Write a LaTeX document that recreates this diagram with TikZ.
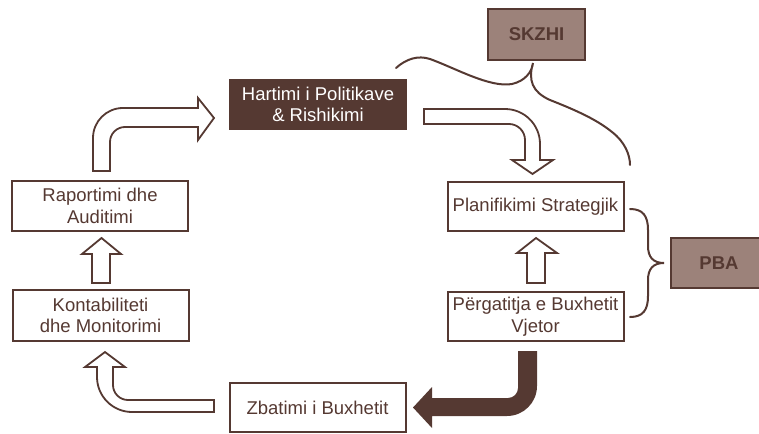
\documentclass[tikz,border=0pt]{standalone}
\usepackage{fontspec}
\setmainfont{Liberation Sans}
\definecolor{dbrown}{HTML}{553932}
\definecolor{lbrown}{HTML}{9C827A}
\begin{document}
\begin{tikzpicture}[x=1pt,y=-1pt,
  box/.style={draw=dbrown,line width=2pt,fill=white,text=dbrown,align=center,
    font=\fontsize{18.5}{21.5}\selectfont,inner sep=0pt,minimum width=176pt,minimum height=49pt},
  darkbox/.style={box,fill=dbrown,draw=dbrown,text=white},
  tagbox/.style={draw=dbrown,line width=2pt,fill=lbrown,text=dbrown,
    font=\fontsize{18.5}{21.5}\selectfont\bfseries,inner sep=0pt,minimum height=49pt},
  hollow/.style={draw=dbrown,line width=1.8pt,fill=white,line join=miter},
  solid/.style={fill=dbrown,draw=none},
  brace/.style={draw=dbrown,line width=2pt,line cap=round}]
\useasboundingbox (0,0) rectangle (759,433);

% nodes
\node[darkbox] (hart) at (318,104.5) {Hartimi i Politikave\\\& Rishikimi};
\node[box] (plan) at (535.5,206.5) {Planifikimi Strategjik};
\node[box] (perg) at (535.5,316.5) {Përgatitja e Buxhetit\\Vjetor};
\node[box,minimum height=50pt] (rap) at (100,206) {Raportimi dhe\\Auditimi};
\node[box,minimum height=51pt] (kont) at (100.5,315.5) {Kontabiliteti\\dhe Monitorimi};
\node[box] (zbat) at (317.5,407.5) {Zbatimi i Buxhetit};
\node[tagbox,minimum width=97pt,minimum height=51pt] (skzhi) at (536.5,34.5) {SKZHI};
\node[tagbox,minimum width=96pt,minimum height=50pt] (pba) at (719,263) {\hspace{0pt}PBA};

% top-left bent arrow (Raportimi -> Hartimi)
\draw[hollow] (93,171) -- (93,138) .. controls (93,121.4) and (106.4,108) .. (123,108)
  -- (198,108) -- (198,98) -- (214,118) -- (198,140) -- (198,127) -- (125,127)
  .. controls (116.7,127) and (110,133.7) .. (110,142) -- (110,171) -- cycle;

% top-right bent arrow (Hartimi -> Planifikimi)
\draw[hollow] (424,109) -- (505,109) .. controls (524.3,109) and (540,124.7) .. (540,144)
  -- (540,160) -- (553,160) -- (532.5,174) -- (512,160) -- (525,160) -- (525,140)
  .. controls (525,131.2) and (517.8,124) .. (509,124) -- (424,124) -- cycle;

% up arrow Përgatitja -> Planifikimi
\draw[hollow] (527,283) -- (527,253) -- (517,253) -- (536,238) -- (557,253) -- (545,253) -- (545,283) -- cycle;

% up arrow Kontabiliteti -> Raportimi
\draw[hollow] (92,283) -- (92,254) -- (82,254) -- (101.5,238) -- (121,254) -- (110,254) -- (110,283) -- cycle;

% dark bent arrow Përgatitja -> Zbatimi
\path[solid] (537,351) -- (537,386) .. controls (537,402.6) and (523.6,416) .. (507,416)
  -- (432,416) -- (432,428) -- (413,407.5) -- (432,387) -- (432,398) -- (508,398)
  .. controls (513.5,398) and (518,393.5) .. (518,388) -- (518,351) -- cycle;

% bottom-left bent arrow Zbatimi -> Kontabiliteti
\draw[hollow] (214,412) -- (132,412) .. controls (112.7,412) and (97,396.3) .. (97,377)
  -- (97,367) -- (85,367) -- (105,352) -- (125,367) -- (113,367) -- (113,385)
  .. controls (113,393.3) and (119.7,400) .. (128,400) -- (214,400) -- cycle;

% brace for PBA
\draw[brace] (630,209) .. controls (643,209) and (648,216) .. (648,230) -- (648,246)
  .. controls (648,257) and (653,263) .. (664,263)
  .. controls (653,263) and (648,269) .. (648,280) -- (648,296)
  .. controls (648,310) and (643,317) .. (630,317);

% brace for SKZHI
\draw[brace] (396,68) .. controls (406,59) and (418,55) .. (430,59)
  .. controls (455,68) and (490,88) .. (512,84)
  .. controls (525,81) and (532,72) .. (533,63)
  .. controls (528,80) and (532,92) .. (550,100)
  .. controls (570,108) and (595,118) .. (612,132)
  .. controls (625,142) and (630,155) .. (630,165);
\end{tikzpicture}
\end{document}
